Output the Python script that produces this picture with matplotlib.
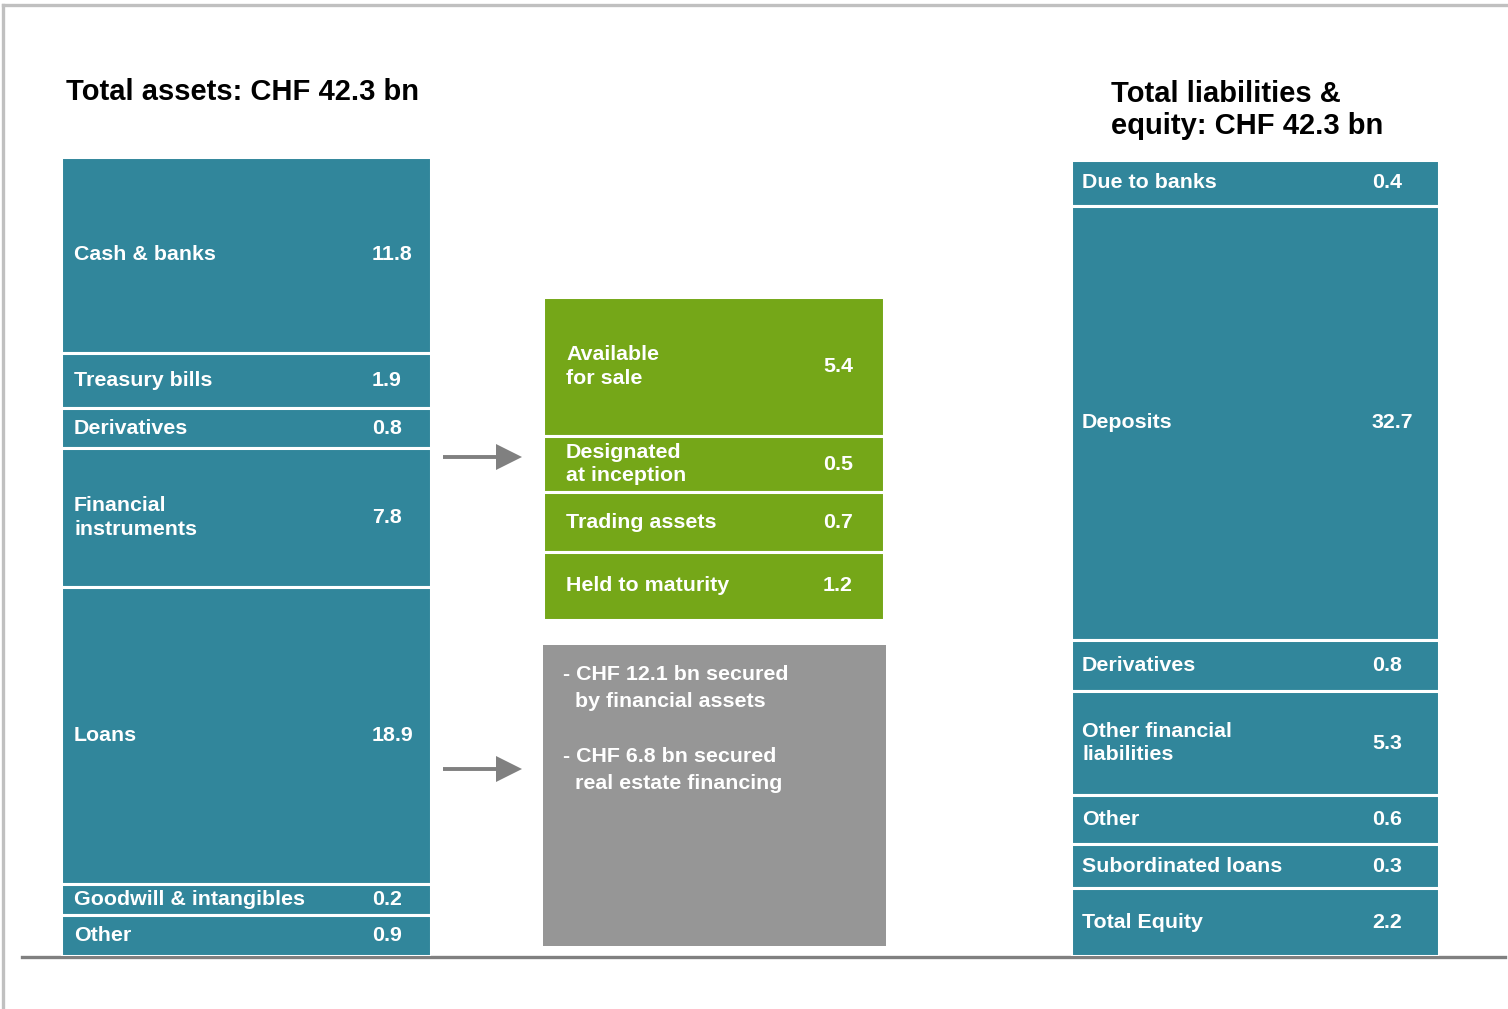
import matplotlib
matplotlib.use("Agg")
import matplotlib.pyplot as plt
from matplotlib.patches import Polygon, Rectangle
from matplotlib.lines import Line2D
import numpy as np

# ---- balance sheet data (CHF bn) ----
asset_labels = ["Cash & banks", "Treasury bills", "Derivatives", "Financial\ninstruments",
                "Loans", "Goodwill & intangibles", "Other"]
asset_values = [11.8, 1.9, 0.8, 7.8, 18.9, 0.2, 0.9]

fin_labels = ["Available\nfor sale", "Designated\nat inception", "Trading assets", "Held to maturity"]
fin_values = [5.4, 0.5, 0.7, 1.2]

liab_labels = ["Due to banks", "Deposits", "Derivatives", "Other financial\nliabilities",
               "Other", "Subordinated loans", "Total Equity"]
liab_values = [0.4, 32.7, 0.8, 5.3, 0.6, 0.3, 2.2]

loan_notes = ["- CHF 12.1 bn secured", "  by financial assets", "",
              "- CHF 6.8 bn secured", "  real estate financing"]

assets_title = "Total assets: CHF 42.3 bn"
liab_title = "Total liabilities &\nequity: CHF 42.3 bn"

# ---- styling ----
W, H = 1508, 1009
TEAL = "#31869B"
GREEN = "#75A718"
GREY_BOX = "#969696"
ARROW = "#808080"
FONT = "Liberation Sans"
LABEL_SIZE = 15.4

fig = plt.figure(figsize=(W / 100, H / 100), dpi=100)
fig.patch.set_facecolor("white")

# overlay axes in pixel units (origin top-left) for frame lines, titles and arrows
ov = fig.add_axes([0, 0, 1, 1])
ov.set_xlim(0, W)
ov.set_ylim(H, 0)
ov.axis("off")


def px_axes(x0, y0, x1, y1):
    """Axes placed by pixel box (top-left origin)."""
    return fig.add_axes([x0 / W, 1 - y1 / H, (x1 - x0) / W, (y1 - y0) / H])


def stacked_column(box, labels, values, color, pad, label_dx, value_dx):
    ax = px_axes(*box)
    heights = np.array(values) + pad          # each block: value plus a fixed floor
    bottoms = np.concatenate([[0], np.cumsum(heights)[:-1]])
    ax.bar(0.5, heights, bottom=bottoms, width=1.0, color=color,
           edgecolor="white", linewidth=2.2, align="center")
    ax.set_xlim(0, 1)
    ax.set_ylim(heights.sum(), 0)
    ax.axis("off")
    for lab, val, b, h in zip(labels, values, bottoms, heights):
        yc = b + h / 2
        ax.annotate(lab, xy=(0, yc), xycoords=("axes fraction", "data"),
                    xytext=(label_dx, 0), textcoords="offset pixels",
                    ha="left", va="center", color="white", fontsize=LABEL_SIZE,
                    fontweight="bold", family=FONT, linespacing=1.3)
        ax.annotate(f"{val:.1f}", xy=(0, yc), xycoords=("axes fraction", "data"),
                    xytext=(value_dx, 0), textcoords="offset pixels",
                    ha="left", va="center", color="white", fontsize=LABEL_SIZE,
                    fontweight="bold", family=FONT)
    return ax


stacked_column((61, 157, 431, 956), asset_labels, asset_values, TEAL, 2.0, 13, 311)
stacked_column((543, 297, 884, 620), fin_labels, fin_values, GREEN, 2.84, 23, 280)
stacked_column((1071, 160, 1439, 956), liab_labels, liab_values, TEAL, 3.42, 11, 301)

# loan breakdown box
ov.add_patch(Rectangle((543, 645), 343, 301, facecolor=GREY_BOX, edgecolor="none"))
ov.text(563, 665, "\n".join(loan_notes), ha="left", va="top", color="white",
        fontsize=LABEL_SIZE, fontweight="bold", family=FONT, linespacing=1.55)

# titles
ov.text(66, 92, assets_title, ha="left", va="center", fontsize=21,
        fontweight="bold", family=FONT, color="black")
ov.text(1111, 110, liab_title, ha="left", va="center", fontsize=21,
        fontweight="bold", family=FONT, color="black", linespacing=1.22)

# arrows pointing from the asset column to the breakdowns
for y in (457, 769):
    ov.add_line(Line2D([443, 500], [y, y], color=ARROW, linewidth=2.8,
                       solid_capstyle="butt"))
    ov.add_patch(Polygon([[496, y - 13], [522, y], [496, y + 13]], closed=True,
                         facecolor=ARROW, edgecolor="none"))

# frame lines
ov.add_line(Line2D([3, W], [5, 5], color="#C0C0C0", linewidth=2.4))
ov.add_line(Line2D([3, 3], [5, H], color="#C0C0C0", linewidth=2.4))
ov.add_line(Line2D([22, 1505], [957, 957], color="#808080", linewidth=2.4))

fig.savefig("out.png", dpi=100, facecolor="white")
